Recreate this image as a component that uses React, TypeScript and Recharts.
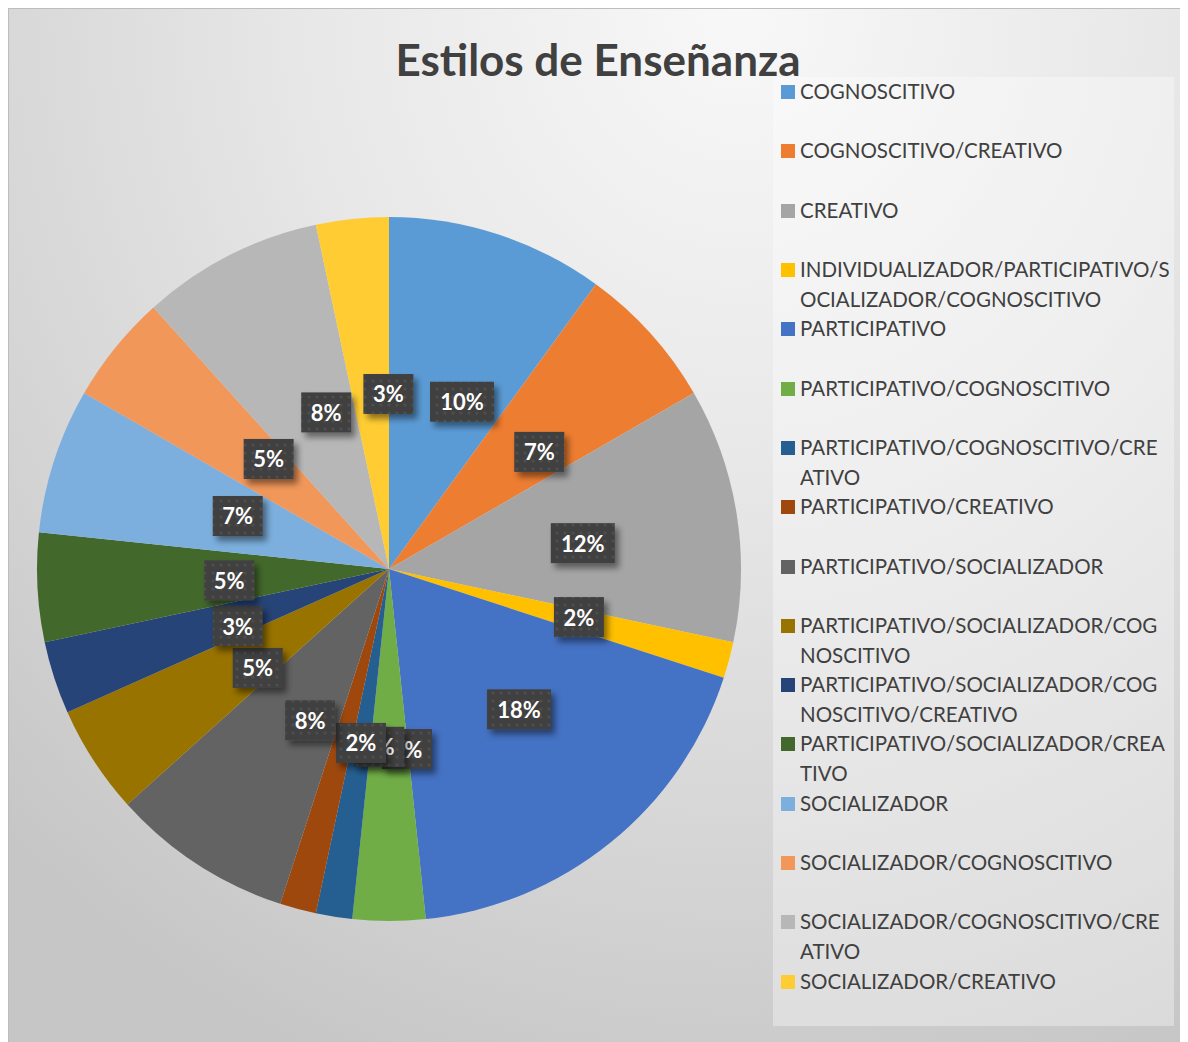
import { PieChart, Pie, Cell, Legend } from 'recharts'

const CATEGORIES = [
  'COGNOSCITIVO',
  'COGNOSCITIVO/CREATIVO',
  'CREATIVO',
  'INDIVIDUALIZADOR/PARTICIPATIVO/SOCIALIZADOR/COGNOSCITIVO',
  'PARTICIPATIVO',
  'PARTICIPATIVO/COGNOSCITIVO',
  'PARTICIPATIVO/COGNOSCITIVO/CREATIVO',
  'PARTICIPATIVO/CREATIVO',
  'PARTICIPATIVO/SOCIALIZADOR',
  'PARTICIPATIVO/SOCIALIZADOR/COGNOSCITIVO',
  'PARTICIPATIVO/SOCIALIZADOR/COGNOSCITIVO/CREATIVO',
  'PARTICIPATIVO/SOCIALIZADOR/CREATIVO',
  'SOCIALIZADOR',
  'SOCIALIZADOR/COGNOSCITIVO',
  'SOCIALIZADOR/COGNOSCITIVO/CREATIVO',
  'SOCIALIZADOR/CREATIVO',
]

const COUNTS = [6, 4, 7, 1, 11, 2, 1, 1, 5, 3, 2, 3, 4, 3, 5, 2]

const COLORS = [
  '#5b9bd5', '#ed7d31', '#a5a5a5', '#ffc000', '#4472c4', '#70ad47', '#255e91', '#9e480e',
  '#636363', '#997300', '#264478', '#43682b', '#7cafdd', '#f1975a', '#b7b7b7', '#ffcd33',
]

const data = CATEGORIES.map((name, i) => ({ name, value: COUNTS[i], fill: COLORS[i] }))

const RAD = Math.PI / 180
const FONT = 'Lato, "Open Sans", sans-serif'

// dark boxed percentage labels, Excel style
function renderLabel(props: any) {
  const { cx, cy, midAngle, percent, index } = props
  const r = 178
  const x = cx + r * Math.cos(-midAngle * RAD) + 18
  const y = cy + r * Math.sin(-midAngle * RAD) + 2
  const text = `${Math.round(percent * 100)}%`
  const w = 22 + 14 * text.length
  const h = 40
  return (
    <g key={`lbl-${index}`}>
      <rect
        x={x - w / 2}
        y={y - h / 2}
        width={w}
        height={h}
        fill="url(#dots)"
        filter="url(#lblShadow)"
      />
      <text
        x={x}
        y={y}
        textAnchor="middle"
        dominantBaseline="central"
        fill="#ffffff"
        fontFamily={FONT}
        fontWeight={700}
        fontSize={22}
      >
        {text}
      </text>
    </g>
  )
}

function renderLegend(props: any) {
  const payload = props.payload || []
  return (
    <div
      style={{
        width: 401,
        height: 949,
        background: 'rgba(255,255,255,0.35)',
        fontFamily: FONT,
        fontSize: 20.5,
        color: '#404040',
      }}
    >
      {payload.map((entry: any, i: number) => (
        <div key={`leg-${i}`} style={{ height: 949 / 16, display: 'flex', alignItems: 'flex-start' }}>
          <span
            style={{
              width: 14,
              height: 14,
              marginLeft: 8,
              marginTop: 8,
              background: entry.color,
              flex: 'none',
            }}
          />
          <span
            style={{
              marginLeft: 5,
              width: 371,
              lineHeight: '29.7px',
              wordBreak: 'break-all',
            }}
          >
            {entry.value}
          </span>
        </div>
      ))}
    </div>
  )
}

export default function App() {
  return (
    <div
      style={{
        position: 'relative',
        width: 1176,
        height: 1036,
        border: '1px solid #bdbdbd',
        background:
          'radial-gradient(ellipse 90% 110% at 62% 0%, #f8f8f8 0%, #e8e8e8 40%, #d2d2d2 80%, #c6c6c6 100%)',
        overflow: 'hidden',
      }}
    >
      <svg width={0} height={0} style={{ position: 'absolute' }}>
        <defs>
          <pattern id="dots" width={8} height={8} patternUnits="userSpaceOnUse">
            <rect width={8} height={8} fill="#404040" />
            <circle cx={4} cy={4} r={1.6} fill="#4d4d4d" />
          </pattern>
          <filter id="lblShadow" x="-30%" y="-30%" width="170%" height="190%">
            <feDropShadow dx={4} dy={5} stdDeviation={3} floodColor="#000" floodOpacity={0.45} />
          </filter>
        </defs>
      </svg>
      <div
        style={{
          position: 'absolute',
          left: 0,
          top: 26,
          width: 1178,
          textAlign: 'center',
          fontFamily: FONT,
          fontWeight: 700,
          fontSize: 44,
          lineHeight: '48px',
          color: '#404040',
          zIndex: 2,
        }}
      >
        Estilos de Enseñanza
      </div>
      <PieChart width={1176} height={1036} margin={{ top: 0, right: 0, bottom: 0, left: 0 }}>
        <Pie
          data={data}
          dataKey="value"
          nameKey="name"
          cx={380}
          cy={560}
          outerRadius={352}
          startAngle={90}
          endAngle={-270}
          stroke="none"
          label={renderLabel}
          labelLine={false}
          isAnimationActive={false}
        >
          {data.map((d, i) => (
            <Cell key={`cell-${i}`} fill={d.fill} />
          ))}
        </Pie>
        <Legend
          layout="vertical"
          align="right"
          verticalAlign="top"
          content={renderLegend}
          wrapperStyle={{ left: 764, top: 68, width: 401, height: 949 }}
        />
      </PieChart>
    </div>
  )
}
